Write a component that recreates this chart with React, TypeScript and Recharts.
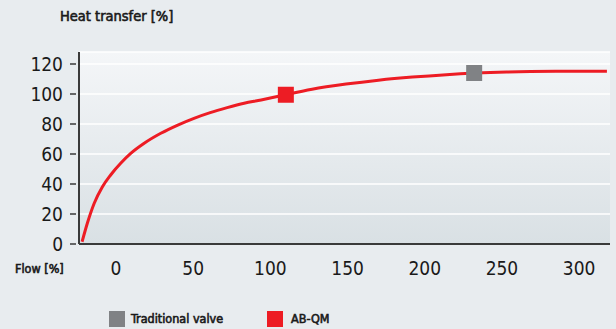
import { ComposedChart, Line, Scatter, XAxis, YAxis, CartesianGrid } from "recharts";

const flow = [-22, -18.6, -14.2, -8.9, -3.5, 3, 9.5, 18, 29, 40, 50.5, 61, 72, 83, 94, 104.5, 127, 149, 170, 192, 214, 253, 285, 318];
const heat = [1.5, 13.8, 27, 38, 46, 53.8, 60.4, 67, 73.8, 79.3, 83.8, 87.6, 90.9, 93.8, 96, 98.3, 103.2, 106.6, 109.2, 111.3, 112.9, 114.6, 115.1, 115.2];
const xTicks = [0, 50, 100, 150, 200, 250, 300];
const yTicks = [0, 20, 40, 60, 80, 100, 120];
const abqm = [{ flow: 110, heat: 99.5 }];
const traditional = [{ flow: 232, heat: 114 }];

const curve = flow.map((f, i) => ({ flow: f, heat: heat[i] }));

const RED = "#ed1c24";
const GRAY = "#808285";
const AXIS = "#3a3a3a";
const FONT = "'Liberation Sans Narrow', 'DejaVu Sans Condensed', 'Roboto', sans-serif";

function YTick({ x, y, payload }: any) {
  return (
    <g>
      <line x1={x - 9} x2={x - 3} y1={y} y2={y} stroke={AXIS} strokeWidth={1.5} />
      <text x={x - 16} y={y + 7} textAnchor="end" fontSize={19} fill="#1a1a1a" fontFamily={FONT}>
        {payload.value}
      </text>
    </g>
  );
}

function XTick({ x, y, payload }: any) {
  return (
    <text x={x} y={y + 31} textAnchor="middle" fontSize={19} fill="#1a1a1a" fontFamily={FONT}>
      {payload.value}
    </text>
  );
}

const square = (color: string) => (props: any) => (
  <rect x={props.cx - 8} y={props.cy - 8} width={16} height={16} fill={color} />
);

// narrow font has no bold face here, so thicken it with a stroke
const label: React.CSSProperties = {
  position: "absolute",
  fontFamily: FONT,
  fontWeight: "normal",
  fontSize: 12.5,
  color: "#1a1a1a",
  WebkitTextStroke: "0.6px #1a1a1a",
  whiteSpace: "nowrap",
  lineHeight: "16px",
};

export default function App() {
  return (
    <div style={{ position: "absolute", left: 0, top: 0, width: 616, height: 329, background: "#e8ecef", overflow: "hidden" }}>
      <div style={{ ...label, left: 60, top: 8, fontSize: 14.5 }}>Heat transfer [%]</div>
      <div style={{ ...label, left: 15, top: 261 }}>Flow [%]</div>
      <ComposedChart width={616} height={329} data={curve} margin={{ top: 52, right: 6, bottom: 55, left: 0 }}>
        <defs>
          <linearGradient id="plotBg" x1="0" y1="0" x2="0" y2="1">
            <stop offset="0%" stopColor="#f4f6f8" />
            <stop offset="100%" stopColor="#d9e0e4" />
          </linearGradient>
        </defs>
        <CartesianGrid vertical={false} stroke="#ffffff" strokeWidth={1.5} fill="url(#plotBg)" />
        <XAxis
          type="number"
          dataKey="flow"
          domain={[-24, 320]}
          ticks={xTicks}
          allowDataOverflow
          height={30}
          tickSize={0}
          tickMargin={0}
          tickLine={false}
          axisLine={{ stroke: AXIS, strokeWidth: 2 }}
          tick={<XTick />}
        />
        <YAxis
          type="number"
          domain={[0, 128]}
          ticks={yTicks}
          width={79}
          tickSize={0}
          tickMargin={0}
          tickLine={false}
          axisLine={{ stroke: AXIS, strokeWidth: 2 }}
          tick={<YTick />}
        />
        <Line type="monotone" dataKey="heat" stroke={RED} strokeWidth={3} dot={false} isAnimationActive={false} />
        <Scatter data={abqm} dataKey="heat" shape={square(RED)} isAnimationActive={false} />
        <Scatter data={traditional} dataKey="heat" shape={square(GRAY)} isAnimationActive={false} />
      </ComposedChart>
      <div style={{ position: "absolute", left: 109, top: 311, width: 16, height: 16, background: GRAY }} />
      <div style={{ ...label, left: 131, top: 311 }}>Traditional valve</div>
      <div style={{ position: "absolute", left: 267, top: 311, width: 16, height: 16, background: RED }} />
      <div style={{ ...label, left: 291, top: 311 }}>AB-QM</div>
    </div>
  );
}
